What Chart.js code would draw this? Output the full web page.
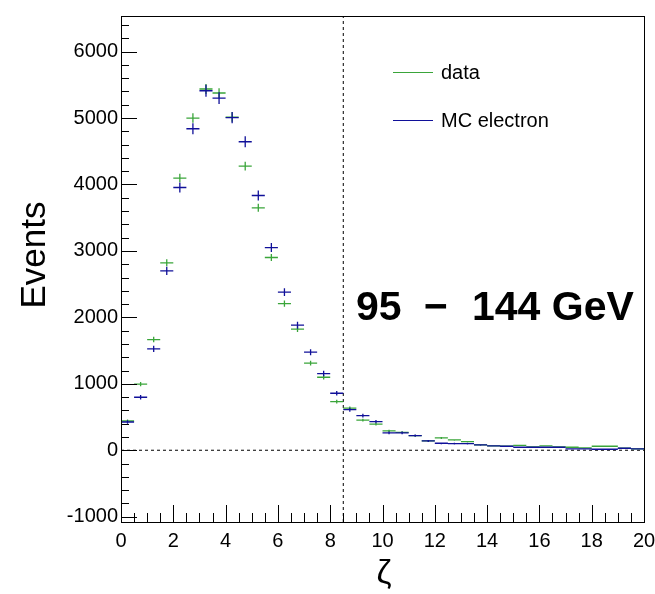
<!DOCTYPE html>
<html>
<head>
<meta charset="utf-8">
<script src="https://cdn.jsdelivr.net/npm/chart.js@4"></script>
<style>
  html, body { margin: 0; padding: 0; background: #fff; }
  #wrap { width: 655px; height: 594px; position: relative; }
</style>
</head>
<body>
<div id="wrap"><canvas id="zetaChart" width="655" height="594"></canvas></div>
<script>
// binning: 40 bins of width 0.5 from 0 to 20
const binEdges = [0, 0.5, 1, 1.5, 2, 2.5, 3, 3.5, 4, 4.5, 5, 5.5, 6, 6.5, 7, 7.5, 8, 8.5, 9, 9.5,
                  10, 10.5, 11, 11.5, 12, 12.5, 13, 13.5, 14, 14.5, 15, 15.5, 16, 16.5, 17, 17.5, 18, 18.5, 19, 19.5, 20];

const dataVals = [440, 994, 1666, 2821, 4096, 5000, 5437, 5377, 5015, 4277,
                  3649, 2901, 2208, 1822, 1310, 1099, 732, 635, 452, 392,
                  291, 270, 220, 140, 185, 155, 130, 80, 65, 60,
                  73, 50, 65, 50, 45, 35, 60, 60, 30, 20];
const dataErr = [21, 32, 41, 53, 64, 71, 74, 73, 71, 65,
                 60, 54, 47, 43, 36, 33, 27, 25, 21, 20,
                 17, 16, 15, 12, 14, 12, 11, 9, 8, 8,
                 9, 7, 8, 7, 7, 6, 8, 8, 5, 4];

const mcVals = [425, 798, 1526, 2700, 3955, 4839, 5411, 5301, 5005, 4643,
                3834, 3051, 2379, 1882, 1476, 1154, 858, 610, 521, 431,
                261, 262, 220, 140, 105, 100, 100, 80, 65, 60,
                45, 45, 45, 45, 20, 22, 15, 15, 30, 20];
const mcErr = [25, 35, 48, 62, 76, 84, 89, 88, 85, 82,
               75, 67, 58, 52, 46, 41, 35, 30, 28, 25,
               20, 20, 18, 15, 13, 13, 13, 11, 10, 10,
               9, 9, 9, 9, 6, 6, 5, 5, 7, 6];

const xTicks = [0, 2, 4, 6, 8, 10, 12, 14, 16, 18, 20];
const yTicks = [-1000, 0, 1000, 2000, 3000, 4000, 5000, 6000];
const cutValue = 8.5;

const GREEN = '#3aa53a';
const BLUE = '#101099';
const FONT = '"Liberation Sans", Arial, sans-serif';

// turn a histogram into ROOT style error crosses (line segments split by nulls)
function crosses(vals, errs) {
    const pts = [];
    vals.forEach((v, i) => {
        const lo = binEdges[i], hi = binEdges[i + 1], c = (lo + hi) / 2;
        pts.push({ x: lo, y: v }, { x: hi, y: v }, { x: hi, y: null });
        pts.push({ x: c, y: v - errs[i] }, { x: c, y: v + errs[i] }, { x: c, y: null });
    });
    return pts;
}

const frameAndText = {
    id: 'frameAndText',
    afterDraw(chart) {
        const { ctx, chartArea: a, scales } = chart;
        const xs = scales.x, ys = scales.y;
        ctx.save();
        ctx.strokeStyle = '#000';
        ctx.lineWidth = 1;
        ctx.strokeRect(a.left + 0.5, a.top + 0.5, a.right - a.left, a.bottom - a.top);

        // y ticks, pointing inward
        ctx.beginPath();
        for (let v = -1000; v <= 6400; v += 200) {
            const y = Math.round(ys.getPixelForValue(v)) + 0.5;
            const len = v % 1000 === 0 ? 16 : 8;
            ctx.moveTo(a.left, y);
            ctx.lineTo(a.left + len, y);
        }
        // x ticks, pointing up
        for (let v = 0; v <= 20; v += 0.5) {
            const x = Math.round(xs.getPixelForValue(v)) + 0.5;
            const len = v % 2 === 0 ? 17 : 9;
            ctx.moveTo(x, a.bottom);
            ctx.lineTo(x, a.bottom - len);
        }
        ctx.stroke();

        // axis titles
        ctx.fillStyle = '#000';
        ctx.font = '35px ' + FONT;
        ctx.textAlign = 'center';
        ctx.textBaseline = 'middle';
        ctx.save();
        ctx.translate(35, 255);
        ctx.rotate(-Math.PI / 2);
        ctx.fillText('Events', 0, 0);
        ctx.restore();
        ctx.font = '34px ' + FONT;
        ctx.fillText('ζ', 384, 574);

        // energy range label
        ctx.font = 'bold 41px ' + FONT;
        ctx.textAlign = 'left';
        ctx.textBaseline = 'alphabetic';
        ctx.fillText('95', 356, 320);
        ctx.fillText('144 GeV', 472, 320);
        ctx.textAlign = 'center';
        ctx.fillText('\u2212', 436, 320);

        // legend
        const items = [['data', GREEN, 72], ['MC electron', BLUE, 120]];
        ctx.font = '20px ' + FONT;
        ctx.textAlign = 'left';
        ctx.textBaseline = 'middle';
        items.forEach(([label, col, y]) => {
            ctx.strokeStyle = col;
            ctx.beginPath();
            ctx.moveTo(393, y + 0.5);
            ctx.lineTo(433, y + 0.5);
            ctx.stroke();
            ctx.fillStyle = '#000';
            ctx.fillText(label, 441, y + 1);
        });
        ctx.restore();
    }
};

const chart = new Chart(document.getElementById('zetaChart').getContext('2d'), {
    type: 'scatter',
    data: {
        datasets: [
            {
                label: 'MC electron',
                data: crosses(mcVals, mcErr),
                showLine: true,
                spanGaps: false,
                borderColor: BLUE,
                borderWidth: 1.3,
                pointRadius: 0,
                order: 0
            },
            {
                label: 'data',
                data: crosses(dataVals, dataErr),
                showLine: true,
                spanGaps: false,
                borderColor: GREEN,
                borderWidth: 1.3,
                pointRadius: 0,
                order: 1
            },
            {
                label: 'zero',
                data: [{ x: 0, y: 0 }, { x: 20, y: 0 }],
                showLine: true,
                borderColor: '#000',
                borderWidth: 1,
                borderDash: [3, 3],
                pointRadius: 0,
                order: 2
            },
            {
                label: 'cut',
                data: [{ x: cutValue, y: -1080 }, { x: cutValue, y: 6536 }],
                showLine: true,
                borderColor: '#000',
                borderWidth: 1,
                borderDash: [3, 3],
                pointRadius: 0,
                order: 2
            }
        ]
    },
    options: {
        responsive: false,
        animation: false,
        layout: { padding: { left: 0, right: 0, top: 16, bottom: 0 } },
        plugins: { legend: { display: false }, tooltip: { enabled: false } },
        scales: {
            x: {
                type: 'linear',
                min: 0,
                max: 20,
                afterFit(scale) {
                    scale.height = 72;
                    scale.paddingRight = 11;
                },
                afterBuildTicks(scale) { scale.ticks = xTicks.map(v => ({ value: v })); },
                grid: { display: false, drawTicks: false },
                border: { display: false },
                ticks: {
                    padding: 7,
                    maxRotation: 0,
                    autoSkip: false,
                    color: '#000',
                    callback: v => String(v),
                    font: { family: FONT, size: 20 }
                }
            },
            y: {
                type: 'linear',
                min: -1080,
                max: 6536,
                afterFit(scale) { scale.width = 121; },
                afterBuildTicks(scale) { scale.ticks = yTicks.map(v => ({ value: v })); },
                grid: { display: false, drawTicks: false },
                border: { display: false },
                ticks: {
                    padding: 3,
                    autoSkip: false,
                    color: '#000',
                    callback: v => String(v),
                    font: { family: FONT, size: 20 }
                }
            }
        }
    },
    plugins: [frameAndText]
});
</script>
</body>
</html>
